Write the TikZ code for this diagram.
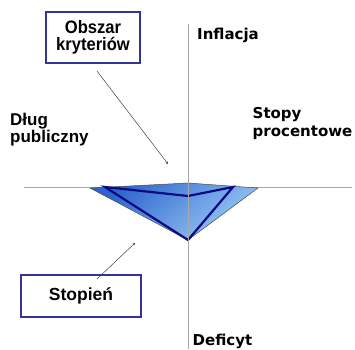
\documentclass[tikz,border=0pt]{standalone}
\usepackage{fontspec}
\setmainfont{Liberation Sans}
\newfontfamily\arialb[FakeStretch=0.92]{Liberation Sans}
\newfontfamily\verd{DejaVu Sans}
\usetikzlibrary{arrows.meta}
\definecolor{boxc}{HTML}{333399}
\definecolor{navyc}{HTML}{0A0A85}
\definecolor{axisc}{HTML}{A8A8A8}
\definecolor{darkbl}{HTML}{2C64CC}
\definecolor{lightbl}{HTML}{9CCBF6}
\tikzset{
  framebox/.style={draw=boxc, line width=2pt, fill=white, align=center, inner sep=0pt},
  axisline/.style={draw=axisc, line width=1pt},
  pointer/.style={draw=black!75, line width=0.5pt, -{Stealth[length=2.5pt,width=2.5pt]}},
  axlabel/.style={font=\verd\bfseries\fontsize{15}{18.5}\selectfont, anchor=base west, align=left, inner sep=0pt},
  lblA/.style={font=\bfseries\fontsize{17}{17}\selectfont, anchor=base west, align=left, inner sep=0pt}
}
\begin{document}
\begin{tikzpicture}[x=1pt,y=1pt]
\useasboundingbox (0,0) rectangle (355,349);
% axes
\coordinate (hl) at (24,162);
\coordinate (hr) at (352,162);
\coordinate (vt) at (188,325);
\coordinate (vb) at (188,0);
\draw[axisline] (hl) -- (hr);
% outer shape
\coordinate (oL) at (90,161);
\coordinate (oT) at (188,166);
\coordinate (oR) at (258,161);
\coordinate (oB) at (188,109);
\shade[top color=darkbl, bottom color=lightbl, shading angle=40] (oL) -- (oT) -- (oR) -- (oB) -- cycle;
\draw[black!70, line width=0.5pt, line join=round] (oL) -- (oT) -- (oR) -- (oB) -- cycle;
% inner shape
\coordinate (iL) at (105,162);
\coordinate (iT) at (188,153);
\coordinate (iR) at (233,162);
\coordinate (iB) at (188,109);
\draw[navyc, line width=2.2pt, line join=miter] (iL) -- (iT) -- (iR) -- (iB) -- cycle;
\draw[axisline] (vt) -- (vb);
% labels
\node[axlabel] (infl) at (197,309.7) {Inflacja};
\node[axlabel] (stopy) at (252.5,212.3) {Stopy\\procentowe};
\node[lblA] (dlug) at (10,206.5) {Dług\\publiczny};
\node[axlabel] (def) at (192.5,3.6) {Deficyt};
% boxes
\node[framebox, minimum width=94pt, minimum height=51pt, font=\arialb\bfseries\fontsize{18}{17.4}\selectfont] (obszar) at (93,311.5) {Obszar\\kryteriów};
\node[framebox, minimum width=120pt, minimum height=42pt, font=\bfseries\fontsize{17.5}{20}\selectfont] (stopien) at (81,53) {Stopień};
% pointers
\coordinate (tip1) at (168,185);
\coordinate (tip2) at (135,106);
\draw[pointer] ([xshift=4pt,yshift=-7pt]obszar.south) -- (tip1);
\draw[pointer] ([xshift=16pt,yshift=-5pt]stopien.north) -- (tip2);
\end{tikzpicture}
\end{document}
